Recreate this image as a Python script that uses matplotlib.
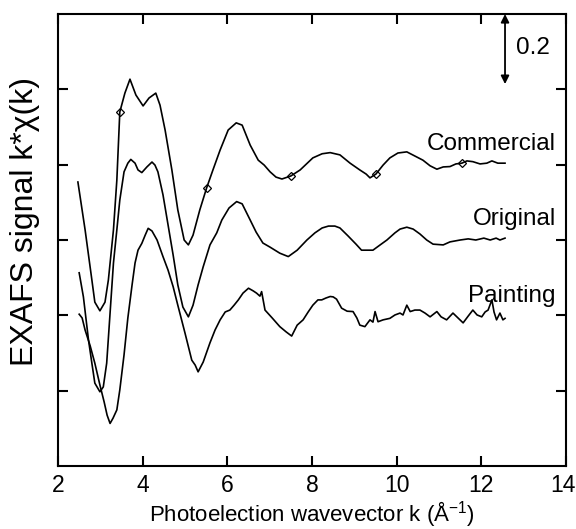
import matplotlib
matplotlib.use("Agg")
import matplotlib.pyplot as plt
import numpy as np

plt.rcParams['font.family'] = ['Liberation Sans', 'DejaVu Sans']
plt.rcParams['mathtext.fontset'] = 'custom'
plt.rcParams['mathtext.rm'] = 'Liberation Sans'

# Commercial spectrum (offset top trace)
commercial_k = [2.47, 2.64, 2.80, 2.87, 2.99, 3.11, 3.19, 3.31, 3.39, 3.46, 3.58, 3.70, 3.84, 4.01,
                4.15, 4.31, 4.41, 4.53, 4.69, 4.83, 4.98, 5.08, 5.19, 5.35, 5.51, 5.66, 5.83, 6.02,
                6.21, 6.35, 6.54, 6.73, 6.87, 7.01, 7.15, 7.29, 7.50, 7.72, 8.02, 8.24, 8.43, 8.66,
                8.90, 9.13, 9.28, 9.37, 9.51, 9.68, 9.84, 10.03, 10.24, 10.43, 10.62, 10.79, 10.95,
                11.10, 11.26, 11.40, 11.54, 11.66, 11.80, 11.97, 12.13, 12.25, 12.39, 12.56]
commercial_y = [0.754, 0.627, 0.494, 0.435, 0.412, 0.435, 0.494, 0.627, 0.759, 0.940, 0.990, 1.027,
                0.985, 0.956, 0.977, 0.990, 0.958, 0.892, 0.786, 0.680, 0.600, 0.587, 0.613, 0.680,
                0.738, 0.786, 0.839, 0.892, 0.911, 0.905, 0.852, 0.812, 0.799, 0.781, 0.767, 0.762,
                0.770, 0.786, 0.818, 0.829, 0.832, 0.826, 0.804, 0.786, 0.775, 0.765, 0.775, 0.799,
                0.818, 0.831, 0.834, 0.823, 0.812, 0.797, 0.788, 0.794, 0.795, 0.802, 0.804, 0.810,
                0.808, 0.802, 0.804, 0.810, 0.804, 0.804]
commercial_marker_k = [3.46, 5.51, 7.50, 9.51, 11.54]
commercial_marker_y = [0.940, 0.738, 0.770, 0.775, 0.804]

# Original spectrum (middle trace)
original_k = [2.50, 2.60, 2.72, 2.80, 2.87, 2.99, 3.07, 3.15, 3.23, 3.31, 3.39, 3.46, 3.56, 3.65,
              3.72, 3.82, 3.89, 3.98, 4.10, 4.22, 4.29, 4.36, 4.48, 4.60, 4.72, 4.83, 4.95, 5.08,
              5.19, 5.31, 5.43, 5.59, 5.75, 5.87, 6.04, 6.22, 6.35, 6.54, 6.68, 6.84, 7.01, 7.24,
              7.44, 7.65, 7.88, 8.07, 8.24, 8.39, 8.54, 8.66, 8.85, 9.04, 9.17, 9.32, 9.44, 9.61,
              9.77, 9.96, 10.08, 10.24, 10.39, 10.55, 10.71, 10.86, 11.10, 11.26, 11.50, 11.69,
              11.87, 12.06, 12.21, 12.35, 12.44, 12.56]
original_y = [0.513, 0.449, 0.335, 0.273, 0.220, 0.197, 0.210, 0.273, 0.406, 0.539, 0.627, 0.706,
              0.781, 0.804, 0.814, 0.804, 0.786, 0.779, 0.794, 0.807, 0.799, 0.781, 0.720, 0.640,
              0.560, 0.481, 0.422, 0.396, 0.427, 0.481, 0.529, 0.587, 0.619, 0.653, 0.685, 0.702,
              0.696, 0.653, 0.621, 0.592, 0.581, 0.565, 0.556, 0.573, 0.600, 0.619, 0.632, 0.637,
              0.637, 0.632, 0.611, 0.589, 0.573, 0.573, 0.573, 0.587, 0.600, 0.619, 0.629, 0.634,
              0.629, 0.616, 0.600, 0.589, 0.587, 0.595, 0.600, 0.603, 0.600, 0.605, 0.600, 0.605,
              0.600, 0.605]

# Painting spectrum (bottom trace)
painting_k = [2.50, 2.57, 2.64, 2.76, 2.87, 2.99, 3.09, 3.16, 3.23, 3.30, 3.39, 3.46, 3.56, 3.65,
              3.75, 3.82, 3.89, 3.98, 4.06, 4.13, 4.22, 4.34, 4.48, 4.60, 4.72, 4.83, 5.00, 5.16,
              5.24, 5.31, 5.43, 5.59, 5.71, 5.83, 5.95, 6.06, 6.16, 6.26, 6.37, 6.50, 6.61, 6.69,
              6.77, 6.81, 6.89, 7.06, 7.24, 7.39, 7.52, 7.65, 7.79, 7.91, 8.02, 8.14, 8.23, 8.33,
              8.43, 8.50, 8.58, 8.70, 8.83, 8.97, 9.06, 9.13, 9.25, 9.37, 9.44, 9.49, 9.56, 9.68,
              9.84, 9.96, 10.08, 10.15, 10.24, 10.32, 10.43, 10.55, 10.67, 10.79, 10.95, 11.05,
              11.18, 11.33, 11.45, 11.57, 11.69, 11.80, 11.90, 12.01, 12.09, 12.16, 12.25, 12.30,
              12.36, 12.44, 12.51, 12.56]
painting_y = [0.403, 0.393, 0.361, 0.319, 0.273, 0.215, 0.170, 0.135, 0.113, 0.127, 0.149, 0.202,
              0.295, 0.393, 0.481, 0.539, 0.573, 0.591, 0.613, 0.631, 0.624, 0.600, 0.556, 0.520,
              0.476, 0.427, 0.353, 0.281, 0.268, 0.250, 0.276, 0.327, 0.361, 0.388, 0.409, 0.414,
              0.427, 0.441, 0.459, 0.472, 0.465, 0.459, 0.451, 0.463, 0.414, 0.393, 0.370, 0.356,
              0.345, 0.374, 0.388, 0.409, 0.427, 0.441, 0.441, 0.446, 0.450, 0.449, 0.443, 0.419,
              0.411, 0.410, 0.393, 0.374, 0.370, 0.388, 0.382, 0.410, 0.383, 0.388, 0.392, 0.401,
              0.406, 0.401, 0.427, 0.410, 0.414, 0.414, 0.406, 0.396, 0.410, 0.396, 0.388, 0.406,
              0.393, 0.380, 0.398, 0.414, 0.401, 0.396, 0.409, 0.414, 0.441, 0.409, 0.388, 0.406,
              0.388, 0.392]

series_labels = ["Commercial", "Original", "Painting"]
label_y = [0.839, 0.640, 0.435]
x_ticks = [2, 4, 6, 8, 10, 12, 14]
y_ticks = [0.2, 0.4, 0.6, 0.8, 1.0]
scale_bar = 0.2

fig = plt.figure(figsize=(5.76, 5.29), dpi=100)
ax = fig.add_axes([0.1007, 0.1191, 0.8819, 0.8544])

lw = 1.2
ax.plot(commercial_k, commercial_y, color='black', lw=lw)
ax.plot(commercial_marker_k, commercial_marker_y, linestyle='none', marker='D', ms=4,
        mfc='none', mec='black', mew=0.9)
ax.plot(original_k, original_y, color='black', lw=lw)
ax.plot(painting_k, painting_y, color='black', lw=lw)

fs = 17.5
for lab, ly in zip(series_labels, label_y):
    ax.text(13.76, ly, lab, ha='right', va='baseline', fontsize=fs)

# scale bar
ax.annotate('', xy=(12.56, 1.2 - scale_bar * 0.93), xytext=(12.56, 1.2),
            arrowprops=dict(arrowstyle='<|-|>', color='black', lw=1.3,
                            mutation_scale=12, shrinkA=0, shrinkB=0))
ax.text(12.83, 1.11, f"{scale_bar}", ha='left', va='center', fontsize=fs)

ax.set_xlim(2, 14)
ax.set_ylim(0, 1.2)
ax.set_xticks(x_ticks)
tick_fs = 16.5
ax.set_xticklabels([str(t) for t in x_ticks[:-1]] + [''])
ax.set_yticks(y_ticks)
ax.set_yticklabels([])
ax.tick_params(direction='in', length=7, width=1.5, top=True, right=True,
               labelsize=tick_fs, pad=6)
for s in ax.spines.values():
    s.set_linewidth(1.5)
# last tick label kept inside the canvas, right-aligned at the edge as in the reference
fig.canvas.draw()
lab0 = ax.get_xticklabels()[0]
bb = lab0.get_window_extent()
ycen = (bb.y0 + bb.y1) / 2 / fig.bbox.height
fig.text(575.5 / 576, ycen, str(x_ticks[-1]), ha='right', va='center', fontsize=tick_fs)

ax.set_xlabel("Photoelection wavevector k (Å$^{-1}$)", fontsize=16, labelpad=1)
fig.text(25 / 576, 1 - 221 / 529, "EXAFS signal k*χ(k)", rotation=90,
         ha='center', va='center', fontsize=23)

fig.savefig("out.png", dpi=100)
